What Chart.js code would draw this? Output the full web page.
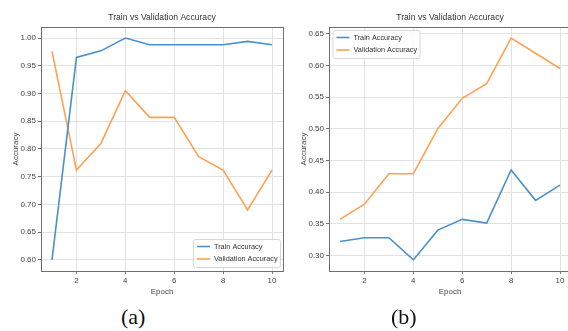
<!DOCTYPE html>
<html lang="en">

<head>
  <meta charset="UTF-8" />
  <title>Train vs Validation Accuracy</title>
  <script src="https://cdn.jsdelivr.net/npm/chart.js"></script>
  <style>
    body { margin: 0; width: 568px; height: 331px; overflow: hidden; background: #fff; position: relative; }
    canvas { position: absolute; top: 0; }
    #chartA { left: 0; }
    #chartB { left: 288px; }
    .cap { position: absolute; top: 304px; font-family: "Liberation Serif", serif; font-size: 22px; color: #111; }
  </style>
</head>

<body>
  <canvas id="chartA" width="290" height="300"></canvas>
  <canvas id="chartB" width="290" height="300"></canvas>
  <div class="cap" style="left:121px">(a)</div>
  <div class="cap" style="left:391px">(b)</div>

  <script>
    // du lieu doc tu hinh
    const epochs = [1, 2, 3, 4, 5, 6, 7, 8, 9, 10];
    const trainA = [0.600, 0.965, 0.977, 1.000, 0.988, 0.988, 0.988, 0.988, 0.994, 0.988];
    const valA = [0.976, 0.762, 0.810, 0.905, 0.857, 0.857, 0.786, 0.762, 0.690, 0.762];
    const trainB = [0.322, 0.328, 0.328, 0.293, 0.340, 0.357, 0.351, 0.435, 0.387, 0.411];
    const valB = [0.357, 0.381, 0.429, 0.429, 0.500, 0.548, 0.571, 0.643, 0.619, 0.595];
    const xTicks = [2, 4, 6, 8, 10];
    const yTicksA = [0.60, 0.65, 0.70, 0.75, 0.80, 0.85, 0.90, 0.95, 1.00];
    const yTicksB = [0.30, 0.35, 0.40, 0.45, 0.50, 0.55, 0.60, 0.65];
    const seriesNames = ['Train Accuracy', 'Validation Accuracy'];
    const colors = ['#4a90c9', '#ffa150'];

    const FONT = '"Liberation Sans", Arial, sans-serif';

    // khung, tieu de va chu thich ve tay
    const decor = {
      id: 'decor',
      afterDraw(chart, args, opts) {
        const ctx = chart.ctx;
        const a = chart.chartArea;
        ctx.save();
        ctx.strokeStyle = '#6e6e6e';
        ctx.lineWidth = 1;
        ctx.strokeRect(a.left + 0.5, a.top + 0.5, a.right - a.left, a.bottom - a.top);

        ctx.fillStyle = '#333';
        ctx.font = '8.6px ' + FONT;
        ctx.textAlign = 'center';
        ctx.textBaseline = 'middle';
        ctx.fillText('Train vs Validation Accuracy', (a.left + a.right) / 2, 18);

        // legend
        const w = 87, h = 28;
        let x, y;
        if (opts.corner === 'br') { x = a.right - 3 - w; y = a.bottom - 4 - h; }
        else { x = a.left + 3.5; y = a.top + 3; }
        ctx.fillStyle = 'rgba(255,255,255,0.85)';
        ctx.strokeStyle = '#d6d6d6';
        ctx.beginPath();
        ctx.roundRect(x + 0.5, y + 0.5, w, h, 2);
        ctx.fill();
        ctx.stroke();
        chart.data.datasets.forEach((ds, i) => {
          const ry = y + 7.5 + i * 12.5;
          ctx.strokeStyle = ds.borderColor;
          ctx.lineWidth = 1.6;
          ctx.beginPath();
          ctx.moveTo(x + 4, ry);
          ctx.lineTo(x + 17, ry);
          ctx.stroke();
          ctx.fillStyle = '#333';
          ctx.font = '7.3px ' + FONT;
          ctx.textAlign = 'left';
          ctx.fillText(ds.label, x + 21, ry);
        });
        ctx.restore();
      }
    };

    function makeChart(id, train, val, yMin, yMax, yTicks, corner) {
      const ctx = document.getElementById(id).getContext('2d');
      return new Chart(ctx, {
        type: 'line',
        data: {
          datasets: [
            { label: seriesNames[0], data: epochs.map((e, i) => ({ x: e, y: train[i] })), borderColor: colors[0] },
            { label: seriesNames[1], data: epochs.map((e, i) => ({ x: e, y: val[i] })), borderColor: colors[1] }
          ].map(d => Object.assign(d, { borderWidth: 1.6, pointRadius: 0, tension: 0, fill: false }))
        },
        options: {
          responsive: false,
          animation: false,
          layout: { padding: { top: 27, right: 7, left: 0, bottom: 0 } },
          plugins: { legend: { display: false }, tooltip: { enabled: false }, decor: { corner } },
          scales: {
            x: {
              type: 'linear', min: 0.55, max: 10.45,
              afterBuildTicks: s => { s.ticks = xTicks.map(v => ({ value: v })); },
              afterFit: s => { s.height = 29; },
              grid: { color: '#e2e2e2', tickLength: 3, tickColor: '#777' },
              border: { display: false },
              ticks: { font: { family: FONT, size: 8 }, color: '#444', padding: 2, maxRotation: 0 },
              title: { display: true, text: 'Epoch', font: { family: FONT, size: 8 }, color: '#444', padding: { top: 0, bottom: 3 } }
            },
            y: {
              min: yMin, max: yMax,
              afterBuildTicks: s => { s.ticks = yTicks.map(v => ({ value: v })); },
              afterFit: s => { s.width = 41; },
              grid: { color: '#e2e2e2', tickLength: 3, tickColor: '#777' },
              border: { display: false },
              ticks: { font: { family: FONT, size: 8 }, color: '#444', padding: 2, callback: v => v.toFixed(2) },
              title: { display: true, text: 'Accuracy', font: { family: FONT, size: 8 }, color: '#444', padding: { top: 11, bottom: 0 } }
            }
          }
        },
        plugins: [decor]
      });
    }

    makeChart('chartA', trainA, valA, 0.58, 1.02, yTicksA, 'br');
    makeChart('chartB', trainB, valB, 0.2755, 0.6605, yTicksB, 'tl');
  </script>
</body>

</html>
